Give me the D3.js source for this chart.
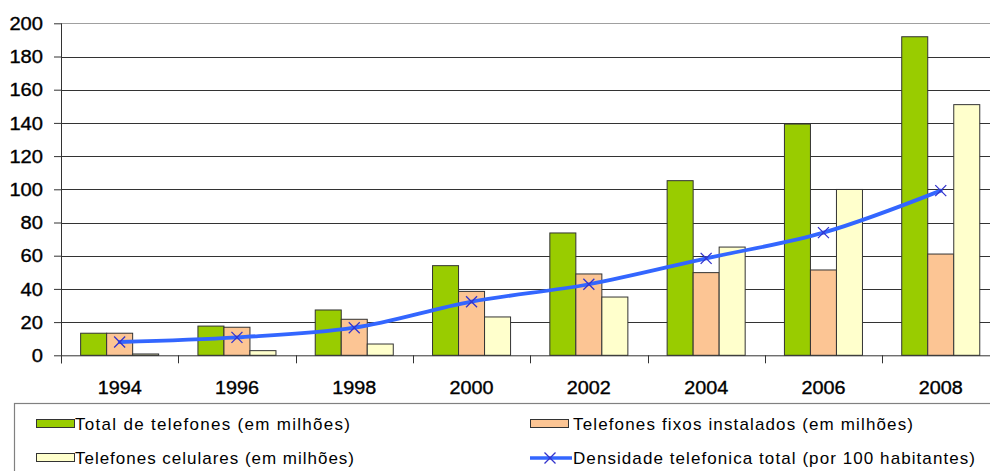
<!DOCTYPE html>
<html>
<head>
<meta charset="utf-8">
<script src="https://cdn.jsdelivr.net/npm/d3@7"></script>
<style>
  html, body { margin: 0; padding: 0; background: #fff; }
  svg { display: block; }
  text { font-family: "Liberation Sans", Arial, sans-serif; fill: #000; }
</style>
</head>
<body>
<svg id="chart" width="990" height="471"></svg>
<script>
const years = ["1994", "1996", "1998", "2000", "2002", "2004", "2006", "2008"];
const totalTelefones = [13.3, 17.6, 27.3, 54.0, 73.7, 105.2, 139.3, 191.9];
const telefonesFixos = [13.3, 16.9, 21.7, 38.5, 49.0, 49.8, 51.4, 61.0];
const telefonesCelulares = [0.8, 2.8, 6.8, 23.1, 35.1, 65.2, 99.9, 151.0];
const densidade = [8.0, 10.8, 16.6, 32.3, 42.8, 58.4, 73.9, 99.2];
const yTicks = [0, 20, 40, 60, 80, 100, 120, 140, 160, 180, 200];
const seriesNames = [
  "Total de telefones (em milhões)",
  "Telefones fixos instalados (em milhões)",
  "Telefones celulares (em milhões)",
  "Densidade telefonica total (por 100 habitantes)"
];

const barSeries = [
  { key: "total", values: totalTelefones, color: "#99cc00" },
  { key: "fixos", values: telefonesFixos, color: "#fcc594" },
  { key: "celulares", values: telefonesCelulares, color: "#ffffcc" }
];

(function () {
const svg = d3.select("#chart");
const pLeft = 61, pTop = 23.3, pBottom = 355.3, step = 117.3;

const x = d3.scaleBand().domain(years).range([pLeft, pLeft + step * years.length]).padding(0);
const xi = d3.scaleBand().domain(barSeries.map(s => s.key)).range([0, x.bandwidth()]).paddingInner(0).paddingOuter(0.755);
const y = d3.scaleLinear().domain([0, 200]).range([pBottom, pTop]);

// gridlines
svg.append("g").selectAll("line").data(yTicks.filter(t => t > 0)).join("line")
  .attr("x1", pLeft).attr("x2", 990)
  .attr("y1", d => Math.round(y(d)) + 0.5).attr("y2", d => Math.round(y(d)) + 0.5)
  .attr("stroke", d => d === 200 ? "#a0a0a0" : "#333")
  .attr("stroke-width", 1);

// bars
const groups = svg.append("g").selectAll("g").data(years).join("g")
  .attr("transform", d => `translate(${x(d)},0)`);
groups.selectAll("rect").data((d, i) => barSeries.map(s => ({ key: s.key, v: s.values[i], color: s.color })))
  .join("rect")
  .attr("x", d => xi(d.key))
  .attr("y", d => y(d.v))
  .attr("width", xi.bandwidth())
  .attr("height", d => y(0) - y(d.v))
  .attr("fill", d => d.color)
  .attr("stroke", "#333")
  .attr("stroke-width", 1);

// y axis
const yAxis = svg.append("g").attr("transform", `translate(${pLeft},0)`)
  .call(d3.axisLeft(y).tickValues(yTicks).tickSize(7).tickPadding(11).tickFormat(d3.format("d")));
yAxis.select(".domain").attr("stroke", "#333").attr("d", `M0.5,${pTop}V${pBottom + 8}`);
yAxis.selectAll(".tick line").attr("stroke", "#333");
yAxis.selectAll(".tick text").attr("font-size", 18).attr("fill", "#000")
  .attr("stroke", "#000").attr("stroke-width", 0.35)
  .attr("font-family", '"Liberation Sans", Arial, sans-serif')
  .attr("dy", "0.34em")
  .attr("textLength", d => String(d).length * 11.2).attr("lengthAdjust", "spacingAndGlyphs");

// x axis
const xAxis = svg.append("g").attr("transform", `translate(0,${pBottom})`)
  .call(d3.axisBottom(x).tickSize(0).tickPadding(0));
xAxis.select(".domain").attr("stroke", "#333").attr("d", `M${pLeft},0.5H990`);
xAxis.selectAll(".tick text").remove();
svg.append("g").selectAll("line").data(d3.range(years.length + 1)).join("line")
  .attr("x1", i => Math.round(pLeft + i * step) + 0.5).attr("x2", i => Math.round(pLeft + i * step) + 0.5)
  .attr("y1", pBottom).attr("y2", pBottom + 8).attr("stroke", "#333");
svg.append("g").selectAll("text").data(years).join("text")
  .attr("x", d => x(d) + x.bandwidth() / 2)
  .attr("y", 394)
  .attr("text-anchor", "middle")
  .attr("font-size", 18)
  .attr("stroke", "#000").attr("stroke-width", 0.35)
  .attr("textLength", 44).attr("lengthAdjust", "spacingAndGlyphs")
  .text(d => d);

// line
const cx = d => x(d) + x.bandwidth() / 2;
const line = d3.line().x((d, i) => cx(years[i])).y(d => y(d)).curve(d3.curveCatmullRom.alpha(0.5));
svg.append("path").datum(densidade).attr("d", line)
  .attr("fill", "none").attr("stroke", "#3366ff").attr("stroke-width", 3.8)
  .attr("stroke-linejoin", "round").attr("stroke-linecap", "round");
const mk = 5.5;
const markers = svg.append("g").selectAll("g").data(densidade).join("g")
  .attr("transform", (d, i) => `translate(${cx(years[i])},${y(d)})`);
markers.append("path").attr("d", `M${-mk},${-mk}L${mk},${mk}M${-mk},${mk}L${mk},${-mk}`)
  .attr("stroke", "#3333cc").attr("stroke-width", 1.3).attr("fill", "none");

// legend
svg.append("rect").attr("x", 14.5).attr("y", 403.5).attr("width", 1000).attr("height", 100)
  .attr("fill", "none").attr("stroke", "#808080").attr("stroke-width", 1.2);

const legendItems = [
  { name: seriesNames[0], type: "rect", color: barSeries[0].color, sx: 36, ty: 424, tx: 75, tw: 275 },
  { name: seriesNames[1], type: "rect", color: barSeries[1].color, sx: 530, ty: 424, tx: 573, tw: 340 },
  { name: seriesNames[2], type: "rect", color: barSeries[2].color, sx: 36, ty: 458, tx: 75, tw: 279 },
  { name: seriesNames[3], type: "line", color: "#3366ff", sx: 530, ty: 458, tx: 573, tw: 402 }
];
const lg = svg.append("g").selectAll("g").data(legendItems).join("g");
lg.filter(d => d.type === "rect").append("rect")
  .attr("x", d => d.sx + 0.5).attr("y", d => d.ty - 4.5).attr("width", 38).attr("height", 8)
  .attr("fill", d => d.color).attr("stroke", "#333").attr("stroke-width", 1);
const ll = lg.filter(d => d.type === "line");
ll.append("line").attr("x1", d => d.sx).attr("x2", d => d.sx + 42).attr("y1", d => d.ty).attr("y2", d => d.ty)
  .attr("stroke", "#3366ff").attr("stroke-width", 3.5);
ll.append("path").attr("d", d => `M${d.sx + 20 - mk},${d.ty - mk}L${d.sx + 20 + mk},${d.ty + mk}M${d.sx + 20 - mk},${d.ty + mk}L${d.sx + 20 + mk},${d.ty - mk}`)
  .attr("stroke", "#3333cc").attr("stroke-width", 1.3);
lg.append("text")
  .attr("x", d => d.tx).attr("y", d => d.ty + 6)
  .attr("font-size", 17)
  .attr("textLength", d => d.tw).attr("lengthAdjust", "spacing")
  .attr("fill", "#111")
  .text(d => d.name);
})();
</script>
</body>
</html>
